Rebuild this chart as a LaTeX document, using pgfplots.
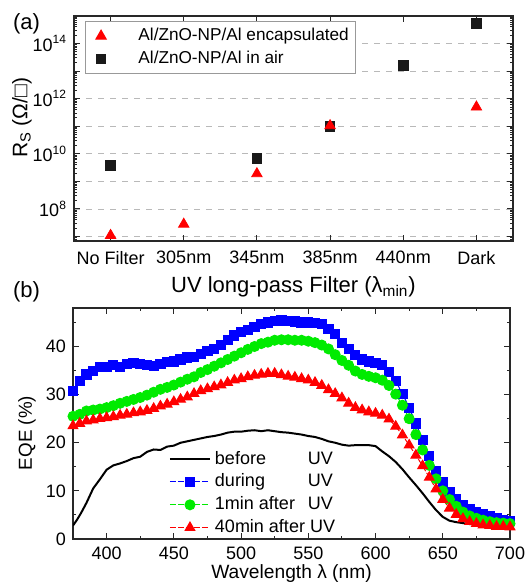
\documentclass[border=0pt]{standalone}
\usepackage{fontspec}
\setmainfont{Liberation Sans}
\usepackage{pgfplots}
\pgfplotsset{compat=1.18}

\definecolor{cblue}{RGB}{0,0,255}
\definecolor{cgreen}{RGB}{0,235,0}
\definecolor{cred}{RGB}{255,0,0}
\definecolor{axgray}{RGB}{40,40,40}

\pgfplotsset{
  every axis/.append style={
    scale only axis,
    anchor=south west,
    axis line style={line width=0.6pt, axgray},
    tick style={line width=0.5pt, axgray},
    major tick length=3pt,
    minor tick length=1.6pt,
    tick align=inside,
    tick label style={font=\fontsize{9}{10.8}\selectfont},
    /pgf/number format/assume math mode=true,
  },
}

\begin{document}
\begin{tikzpicture}[font=\fontsize{9}{10.8}\selectfont]

% (a) sheet resistance
\begin{axis}[
  at={(37pt,171.5pt)}, width=219.5pt, height=112.5pt,
  xmin=-0.5, xmax=5.5,
  xtick={0,1,2,3,4,5},
  xticklabels={No Filter,305nm,345nm,385nm,440nm,Dark},
  xticklabel style={yshift=-1.5pt},
  ymode=log, ymin=6.9e6, ymax=1e15,
  ytick={1e7,1e8,1e9,1e10,1e11,1e12,1e13,1e14},
  yticklabels={,10\textsuperscript{8},,10\textsuperscript{10},,10\textsuperscript{12},,10\textsuperscript{14}},
  minor ytick={8e6,9e6,
    2e7,3e7,4e7,5e7,6e7,7e7,8e7,9e7,
    2e8,3e8,4e8,5e8,6e8,7e8,8e8,9e8,
    2e9,3e9,4e9,5e9,6e9,7e9,8e9,9e9,
    2e10,3e10,4e10,5e10,6e10,7e10,8e10,9e10,
    2e11,3e11,4e11,5e11,6e11,7e11,8e11,9e11,
    2e12,3e12,4e12,5e12,6e12,7e12,8e12,9e12,
    2e13,3e13,4e13,5e13,6e13,7e13,8e13,9e13,
    2e14,3e14,4e14,5e14,6e14,7e14,8e14,9e14},
  ymajorgrids,
  major grid style={dashed, gray!55, line width=0.4pt},
  xlabel={UV long-pass Filter (λ\textsubscript{min})},
  xlabel style={at={(axis description cs:0.5,0)}, anchor=center, yshift=-23pt,
    font=\fontsize{11}{13}\selectfont},
  ylabel={R\textsubscript{S} (Ω/□)},
  ylabel style={at={(axis description cs:0,0.547)}, anchor=center, yshift=26pt,
    font=\fontsize{10.5}{12}\selectfont},
  reverse legend,
  legend style={at={(0.025,0.978)}, anchor=north west, draw=gray!80,
    line width=0.5pt, font=\fontsize{8.6}{10.4}\selectfont, row sep=-0.3pt,
    inner sep=1.5pt, cells={anchor=west}},
  legend image code/.code={
    \path[draw=none, fill=none] (0pt,0pt) -- (23pt,0pt);
    \draw[#1] plot coordinates {(6.3pt,0pt)};},
]
\addplot[only marks, mark=square*, mark size=2.4pt, color=black!90]
  coordinates {(0,3.8e9) (2,7e9) (3,1e11) (4,1.6e13) (5,5.5e14)};
\addlegendentry{Al/ZnO-NP/Al in air}
\addplot[only marks, mark=triangle*, mark size=3pt, color=cred]
  coordinates {(0,1.1e7) (1,2.8e7) (2,1.9e9) (3,1.05e11) (5,5e11)};
\addlegendentry{Al/ZnO-NP/Al encapsulated}
\end{axis}

% (b) EQE
\begin{axis}[
  at={(36.5pt,22.5pt)}, width=218.5pt, height=115.5pt,
  xmin=375, xmax=700, ymin=0, ymax=48,
  xtick={400,450,500,550,600,650,700},
  minor xtick={375,425,475,525,575,625,675},
  ytick={0,10,20,30,40},
  minor ytick={5,15,25,35,45},
  xticklabel style={yshift=-0.5pt},
  xlabel={Wavelength λ (nm)},
  xlabel style={at={(axis description cs:0.5,0)}, anchor=center, yshift=-17.5pt,
    font=\fontsize{9.6}{11.5}\selectfont},
  ylabel={EQE (\%)},
  ylabel style={at={(axis description cs:0,0.459)}, anchor=center, yshift=23pt,
    font=\fontsize{9.4}{11}\selectfont},
  legend style={at={(0.205,-0.022)}, anchor=south west, draw=none, fill=none,
    font=\fontsize{9}{10.8}\selectfont, row sep=-0.6pt, cells={anchor=west}},
  legend image code/.code={
    \draw[mark repeat=2, mark phase=2, #1]
      plot coordinates {(0pt,0pt) (10pt,0pt) (20pt,0pt)};},
]
\addplot[black, line width=1pt, no marks] table {
375 2.8
378 4.0
381 5.4
385 7.5
390 10.5
395 12.4
400 14.4
405 15.3
410 15.7
415 16.2
420 16.8
425 17.1
430 18.1
435 18.6
440 18.5
445 19.2
450 19.4
455 20.0
460 20.3
465 20.6
470 20.9
475 21.2
480 21.4
485 21.7
490 22.1
495 22.3
500 22.3
505 22.5
510 22.6
515 22.4
520 22.6
525 22.4
530 22.2
535 22.1
540 21.9
545 21.7
550 21.4
555 21.2
560 20.8
565 20.3
570 20.0
575 19.6
580 19.4
585 19.5
590 19.5
595 19.5
600 19.3
605 18.2
610 17.2
615 16.0
620 14.5
625 12.8
630 11.2
635 9.5
640 7.7
645 6.0
650 4.6
655 3.8
660 3.5
665 3.3
670 3.1
680 3.0
690 2.9
700 2.9
};
\addlegendentry{\makebox[46.5pt][l]{before}UV}
\addplot[cblue, line width=0.5pt, dash pattern=on 3pt off 1pt,
  mark=square*, mark size=2.3pt, mark options={solid}] table {
375 30.8
380 32.9
385 34.2
390 34.9
395 35.8
400 35.8
405 36.1
410 35.8
415 36.3
420 36.6
425 36.3
430 36.2
435 36.0
440 36.4
445 36.8
450 36.9
455 37.3
460 37.7
465 37.8
470 38.5
475 39.0
480 39.5
485 40.3
490 41.3
495 42.3
500 43.0
505 43.5
510 44.0
515 44.6
520 45.0
525 45.3
530 45.4
535 45.3
540 45.2
545 45.0
550 45.0
555 44.9
560 44.6
565 43.7
570 42.6
575 40.8
580 39.4
585 38.3
590 37.3
595 36.9
600 36.6
605 36.1
610 34.7
615 32.8
620 30.2
625 27.3
630 24.0
635 20.6
640 17.2
645 14.2
650 11.9
655 9.7
660 8.2
665 7.0
670 6.2
675 5.5
680 5.1
685 4.7
690 4.4
695 4.0
700 3.8
};
\addlegendentry{\makebox[46.5pt][l]{during}UV}
\addplot[cgreen, line width=0.5pt, dash pattern=on 3pt off 1pt,
  mark=*, mark size=2.5pt, mark options={solid}] table {
375 25.5
380 25.9
385 26.6
390 26.8
395 27.0
400 27.3
405 27.7
410 28.2
415 28.6
420 29.0
425 29.4
430 29.9
435 30.5
440 31.1
445 31.5
450 32.0
455 32.6
460 33.2
465 33.7
470 34.6
475 35.2
480 35.9
485 36.6
490 37.3
495 38.0
500 38.7
505 39.4
510 40.0
515 40.6
520 40.9
525 41.3
530 41.4
535 41.4
540 41.3
545 41.3
550 41.1
555 40.8
560 40.3
565 39.5
570 38.3
575 37.1
580 36.1
585 34.9
590 34.2
595 33.8
600 33.5
605 33.0
610 31.9
615 30.1
620 27.8
625 25.0
630 21.7
635 18.5
640 15.3
645 12.5
650 10.0
655 8.2
660 6.8
665 5.6
670 4.8
675 4.3
680 3.9
685 3.6
690 3.4
695 3.3
700 3.2
};
\addlegendentry{\makebox[46.5pt][l]{1min after}UV}
\addplot[cred, line width=0.5pt, dash pattern=on 3pt off 1pt,
  mark=triangle*, mark size=2.8pt, mark options={solid}] table {
375 23.5
380 24.0
385 24.5
390 24.7
395 25.0
400 25.2
405 25.4
410 25.7
415 25.9
420 26.2
425 26.4
430 26.7
435 27.1
440 27.6
445 28.0
450 28.5
455 29.0
460 29.5
465 30.2
470 30.8
475 31.2
480 31.6
485 32.0
490 32.5
495 33.0
500 33.3
505 33.7
510 34.0
515 34.2
520 34.4
525 34.4
530 34.1
535 33.8
540 33.6
545 33.3
550 33.0
555 32.5
560 31.9
565 31.0
570 30.2
575 29.3
580 28.2
585 27.3
590 26.8
595 26.4
600 26.1
605 25.7
610 24.9
615 23.4
620 21.6
625 19.5
630 17.4
635 15.2
640 12.8
645 10.4
650 8.2
655 6.4
660 5.1
665 4.2
670 3.6
675 3.2
680 2.9
685 2.8
690 2.6
695 2.6
700 2.5
};
\addlegendentry{40min after UV}
\end{axis}

\node[font=\fontsize{11}{13}\selectfont] at (13.25pt,280.25pt) {(a)};
\node[font=\fontsize{11}{13}\selectfont] at (13.25pt,146pt) {(b)};

\pgfresetboundingbox
\path (0,0) rectangle (263pt,292pt);
\end{tikzpicture}
\end{document}
